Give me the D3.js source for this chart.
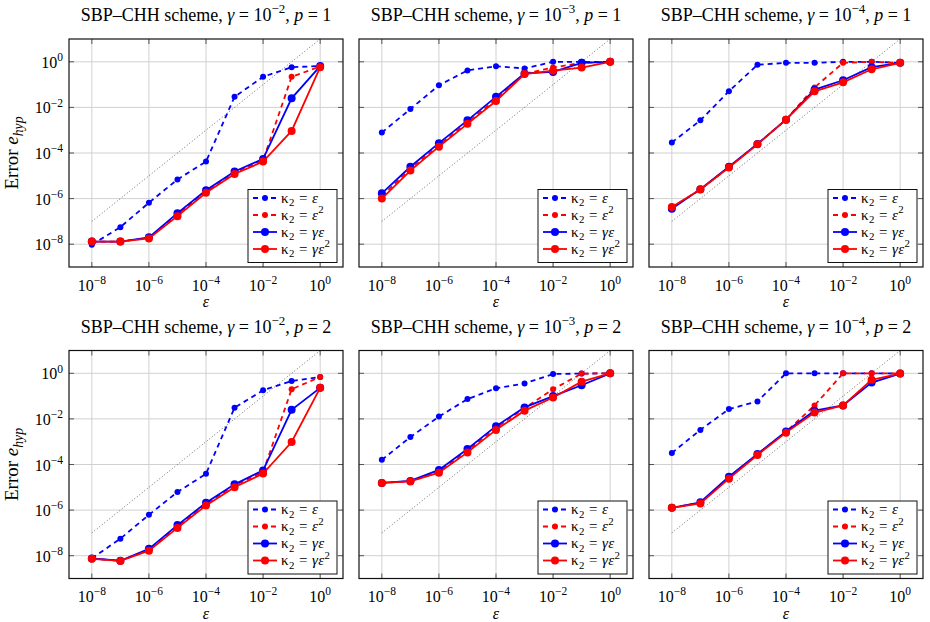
<!DOCTYPE html>
<html><head><meta charset="utf-8">
<script src="https://cdn.jsdelivr.net/npm/d3@7"></script>
<style>body{margin:0;background:#fff}svg{font-family:"Liberation Serif","DejaVu Serif",serif}</style>
</head><body>
<script>
// epsilon values on the x axis
const eps = [1e-8, 1e-7, 1e-6, 1e-5, 1e-4, 1e-3, 1e-2, 1e-1, 1];
const gammaExps = [-2, -3, -4];
const orders = [1, 2];
const tickVals = [1e-8, 1e-6, 1e-4, 1e-2, 1];
const refLine = [[1e-8, 1e-7], [1, 10]];
const seriesNames = ["ε", "ε2", "γε", "γε2"];

// gamma = 1e-2, p = 1
const g2p1Eps   = [9.5e-9, 5.6e-8, 6.6e-7, 6.9e-6, 4.2e-5, 0.029, 0.22, 0.58, 0.65];
const g2p1Eps2  = [1.3e-8, 1.3e-8, 1.9e-8, 2.0e-7, 2.0e-6, 1.35e-5, 4.8e-5, 0.22, 0.62];
const g2p1GEps  = [1.3e-8, 1.3e-8, 2.0e-8, 2.3e-7, 2.3e-6, 1.55e-5, 5.5e-5, 0.025, 0.65];
const g2p1GEps2 = [1.3e-8, 1.3e-8, 1.8e-8, 1.7e-7, 1.8e-6, 1.2e-5, 4.2e-5, 9.3e-4, 0.58];
// gamma = 1e-3, p = 1
const g3p1Eps   = [7.9e-4, 8.5e-3, 0.093, 0.42, 0.64, 0.51, 1.0, 1.0, 1.0];
const g3p1Eps2  = [1.3e-6, 2.0e-5, 2.2e-4, 2.2e-3, 0.023, 0.30, 0.56, 0.9, 1.0];
const g3p1GEps  = [1.7e-6, 2.5e-5, 2.7e-4, 2.7e-3, 0.029, 0.31, 0.36, 0.9, 1.0];
const g3p1GEps2 = [1.0e-6, 1.7e-5, 1.9e-4, 1.9e-3, 0.019, 0.29, 0.41, 0.56, 1.0];
// gamma = 1e-4, p = 1
const g4p1Eps   = [2.9e-4, 2.7e-3, 0.051, 0.74, 0.9, 0.9, 1.0, 1.0, 0.9];
const g4p1Eps2  = [4.0e-7, 2.5e-6, 2.4e-5, 2.5e-4, 2.9e-3, 0.075, 0.9, 1.0, 0.9];
const g4p1GEps  = [3.6e-7, 2.6e-6, 2.5e-5, 2.5e-4, 2.9e-3, 0.06, 0.155, 0.58, 0.9];
const g4p1GEps2 = [4.3e-7, 2.5e-6, 2.3e-5, 2.4e-4, 2.9e-3, 0.051, 0.126, 0.47, 0.9];
// gamma = 1e-2, p = 2
const g2p2Eps   = [7.6e-9, 5.6e-8, 6.2e-7, 6.2e-6, 3.9e-5, 0.031, 0.18, 0.46, 0.69];
const g2p2Eps2  = [7.5e-9, 6e-9, 1.8e-8, 1.9e-7, 1.8e-6, 1.2e-5, 4.7e-5, 0.2, 0.69];
const g2p2GEps  = [7.6e-9, 6e-9, 2.0e-8, 2.2e-7, 2.1e-6, 1.35e-5, 5.5e-5, 0.025, 0.23];
const g2p2GEps2 = [7.3e-9, 5.9e-9, 1.66e-8, 1.66e-7, 1.6e-6, 1.0e-5, 4.0e-5, 9.7e-4, 0.23];
// gamma = 1e-3, p = 2
const g3p2Eps   = [1.6e-4, 1.6e-3, 0.0126, 0.074, 0.22, 0.36, 0.93, 0.97, 1.0];
const g3p2Eps2  = [1.55e-5, 1.85e-5, 5e-5, 4e-4, 4e-3, 0.03, 0.2, 0.97, 1.0];
const g3p2GEps  = [1.55e-5, 1.9e-5, 5.8e-5, 4.8e-4, 4.8e-3, 0.032, 0.10, 0.30, 1.0];
const g3p2GEps2 = [1.55e-5, 1.8e-5, 4.4e-5, 3.4e-4, 3.3e-3, 0.023, 0.087, 0.43, 1.0];
// gamma = 1e-4, p = 2
const g4p2Eps   = [3.2e-4, 3.3e-3, 0.027, 0.058, 1.0, 1.0, 1.0, 1.0, 0.97];
const g4p2Eps2  = [1.26e-6, 2.1e-6, 2.7e-5, 2.8e-4, 2.7e-3, 0.039, 1.0, 1.0, 1.0];
const g4p2GEps  = [1.26e-6, 2.2e-6, 2.9e-5, 2.9e-4, 2.8e-3, 0.023, 0.039, 0.39, 0.97];
const g4p2GEps2 = [1.26e-6, 1.95e-6, 2.4e-5, 2.6e-4, 2.5e-3, 0.019, 0.039, 0.52, 0.97];

const panelSeries = [
  [g2p1Eps, g2p1Eps2, g2p1GEps, g2p1GEps2],
  [g3p1Eps, g3p1Eps2, g3p1GEps, g3p1GEps2],
  [g4p1Eps, g4p1Eps2, g4p1GEps, g4p1GEps2],
  [g2p2Eps, g2p2Eps2, g2p2GEps, g2p2GEps2],
  [g3p2Eps, g3p2Eps2, g3p2GEps, g3p2GEps2],
  [g4p2Eps, g4p2Eps2, g4p2GEps, g4p2GEps2]
];

const styles = [
  {color: "#0000ff", dash: "5,4", r: 3},
  {color: "#ff0000", dash: "5,4", r: 3},
  {color: "#0000ff", dash: null, r: 4},
  {color: "#ff0000", dash: null, r: 4}
];

const W = 930, H = 622, pw = 274, ph = 228;
const svg = d3.select("body").append("svg").attr("width", W).attr("height", H);

// writes text made of parts: {t, i (italic), s (shift: -1 sup, 1 sub)}
function rich(sel, parts, size) {
  let cur = 0;
  parts.forEach(p => {
    const shift = p.s === -1 ? -size * 0.42 : p.s === 1 ? size * 0.25 : 0;
    const ts = sel.append("tspan").text(p.t).attr("dy", shift - cur);
    cur = shift;
    if (p.i) ts.attr("font-style", "italic");
    if (p.s) ts.attr("font-size", size * 0.72);
  });
}

const x = d3.scaleLog().domain([10 ** -8.8, 10 ** 0.8]).range([0, pw]);
const y = d3.scaleLog().domain([1e-9, 10]).range([ph, 0]);
const line = d3.line().x(d => x(d[0])).y(d => y(d[1]));

const fTitle = 18, fTick = 16, fLab = 19, fLeg = 15;

panelSeries.forEach((series, k) => {
  const row = Math.floor(k / 3), col = k % 3;
  const left = 69 + col * 290, top = 39 + row * 311.5;
  const g = svg.append("g").attr("transform", `translate(${left},${top})`);

  // title
  const title = svg.append("text").attr("x", left + pw / 2).attr("y", top - 18)
    .attr("text-anchor", "middle").attr("font-size", fTitle);
  rich(title, [{t: "SBP–CHH scheme, "}, {t: "γ", i: 1}, {t: " = 10"}, {t: "−" + (-gammaExps[col]), s: -1},
    {t: ", "}, {t: "p", i: 1}, {t: " = " + orders[row]}], fTitle);

  // grid
  g.selectAll(".gx").data(tickVals).enter().append("line")
    .attr("x1", d => x(d)).attr("x2", d => x(d)).attr("y1", 0).attr("y2", ph)
    .attr("stroke", "#d0d0d0").attr("stroke-width", 1);
  g.selectAll(".gy").data(tickVals).enter().append("line")
    .attr("y1", d => y(d)).attr("y2", d => y(d)).attr("x1", 0).attr("x2", pw)
    .attr("stroke", "#d0d0d0").attr("stroke-width", 1);

  // ticks (inward, both sides)
  tickVals.forEach(v => {
    g.append("line").attr("x1", x(v)).attr("x2", x(v)).attr("y1", ph).attr("y2", ph - 5).attr("stroke", "#555");
    g.append("line").attr("x1", x(v)).attr("x2", x(v)).attr("y1", 0).attr("y2", 5).attr("stroke", "#555");
    g.append("line").attr("y1", y(v)).attr("y2", y(v)).attr("x1", 0).attr("x2", 5).attr("stroke", "#555");
    g.append("line").attr("y1", y(v)).attr("y2", y(v)).attr("x1", pw).attr("x2", pw - 5).attr("stroke", "#555");
  });

  // tick labels
  tickVals.forEach(v => {
    const e = Math.round(Math.log10(v));
    const lab = g.append("text").attr("x", x(v)).attr("y", ph + 23.5).attr("text-anchor", "middle").attr("font-size", fTick);
    rich(lab, [{t: "10"}, {t: (e < 0 ? "−" : "") + Math.abs(e), s: -1}], fTick);
    if (col === 0) {
      const yl = g.append("text").attr("x", -6).attr("y", y(v) + 6).attr("text-anchor", "end").attr("font-size", fTick);
      rich(yl, [{t: "10"}, {t: (e < 0 ? "−" : "") + Math.abs(e), s: -1}], fTick);
    }
  });

  // axis labels
  g.append("text").attr("x", pw / 2).attr("y", ph + 40).attr("text-anchor", "middle")
    .attr("font-size", 16).attr("font-style", "italic").text("ε");
  if (col === 0) {
    const yt = g.append("text").attr("transform", `translate(${-51},${ph / 2}) rotate(-90)`)
      .attr("text-anchor", "middle").attr("font-size", fLab);
    rich(yt, [{t: "Error "}, {t: "e", i: 1}, {t: "hyp", i: 1, s: 1}], fLab);
  }

  // reference slope line
  g.append("path").attr("d", line(refLine)).attr("fill", "none")
    .attr("stroke", "#444").attr("stroke-width", 0.8).attr("stroke-dasharray", "1,2.2");

  // series
  series.forEach((vals, si) => {
    const st = styles[si];
    const pts = eps.map((e, i) => [e, vals[i]]);
    g.append("path").attr("d", line(pts)).attr("fill", "none").attr("stroke", st.color)
      .attr("stroke-width", 1.8).attr("stroke-dasharray", st.dash);
    g.selectAll(null).data(pts).enter().append("circle")
      .attr("cx", d => x(d[0])).attr("cy", d => y(d[1])).attr("r", st.r).attr("fill", st.color);
  });

  // frame
  g.append("rect").attr("width", pw).attr("height", ph).attr("fill", "none").attr("stroke", "#111").attr("stroke-width", 1.2);

  // legend
  const lg = g.append("g").attr("transform", `translate(${pw - 95},${ph - 77.5})`);
  lg.append("rect").attr("width", 89).attr("height", 73).attr("fill", "#fff").attr("stroke", "#111");
  const rowsY = [8.5, 25.5, 42.5, 59.5];
  seriesNames.forEach((nm, si) => {
    const st = styles[si];
    const yy = rowsY[si];
    lg.append("line").attr("x1", 5).attr("x2", 29).attr("y1", yy).attr("y2", yy)
      .attr("stroke", st.color).attr("stroke-width", 1.8).attr("stroke-dasharray", st.dash);
    lg.append("circle").attr("cx", 17).attr("cy", yy).attr("r", st.r).attr("fill", st.color);
    const t = lg.append("text").attr("x", 33).attr("y", yy + 4.5).attr("font-size", fLeg)
      .attr("letter-spacing", 0.4);
    const parts = [{t: "κ"}, {t: "2", s: 1}, {t: " = "}];
    if (nm.startsWith("γ")) parts.push({t: "γ", i: 1});
    parts.push({t: "ε", i: 1});
    if (nm.endsWith("2")) parts.push({t: "2", s: -1});
    rich(t, parts, fLeg);
  });
});
</script>
</body></html>
